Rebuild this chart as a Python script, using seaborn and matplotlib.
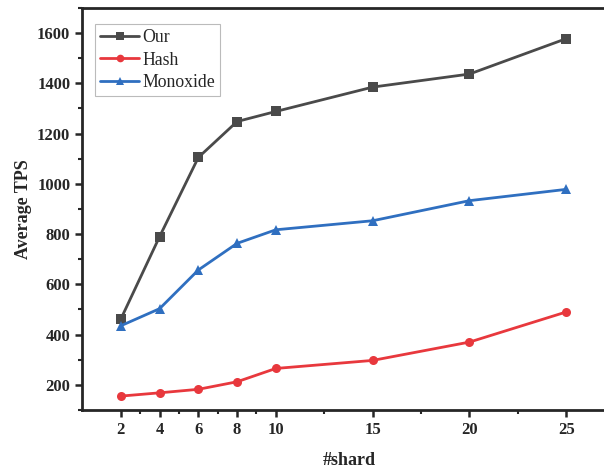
import matplotlib
matplotlib.use("Agg")
import matplotlib.pyplot as plt
import pandas as pd
import seaborn as sns
from matplotlib.ticker import AutoMinorLocator, FixedLocator

# values
shards = [2, 4, 6, 8, 10, 15, 20, 25]
our = [462, 790, 1105, 1248, 1288, 1385, 1437, 1578]
hash_tps = [155, 168, 182, 212, 265, 297, 370, 490]
monoxide = [435, 503, 657, 763, 817, 853, 933, 978]

methods = ["Our", "Hash", "Monoxide"]
colors = ["#4a4a4a", "#e8383d", "#2f6fc0"]

df = pd.concat([
    pd.DataFrame({"shard": shards, "tps": our, "method": "Our"}),
    pd.DataFrame({"shard": shards, "tps": hash_tps, "method": "Hash"}),
    pd.DataFrame({"shard": shards, "tps": monoxide, "method": "Monoxide"}),
])

sns.set_style("ticks")
plt.rcParams["font.family"] = ["Liberation Serif", "DejaVu Serif"]

fig = plt.figure(figsize=(6.04, 4.69), dpi=100)
# the original picture is cropped on the right, so the right spine falls off the edge
ax = fig.add_axes([0.136, 0.126, 0.885, 0.857])

sns.lineplot(
    data=df, x="shard", y="tps", hue="method", style="method",
    hue_order=methods, style_order=methods,
    palette=colors, markers=["s", "o", "^"], dashes=False,
    markersize=6.5, linewidth=2, markeredgewidth=0, ax=ax,
)

ax.set_xlim(0, 27.6)
ax.set_ylim(100, 1700)
ax.xaxis.set_major_locator(FixedLocator(shards))
ax.xaxis.set_minor_locator(FixedLocator([3, 5, 7, 9, 12.5, 17.5, 22.5]))
ax.set_yticks([200, 400, 600, 800, 1000, 1200, 1400, 1600])
ax.yaxis.set_minor_locator(AutoMinorLocator(2))
ax.tick_params(axis="both", which="major", labelsize=12, width=1.8, length=5)
ax.tick_params(axis="both", which="minor", width=1.5, length=3)
for lab in ax.get_xticklabels() + ax.get_yticklabels():
    lab.set_fontweight("bold")

for side in ["left", "bottom", "top", "right"]:
    ax.spines[side].set_linewidth(2)
    ax.spines[side].set_visible(True)

ax.set_xlabel("#shard", fontsize=13, fontweight="bold", labelpad=10)
ax.set_ylabel("Average TPS", fontsize=13, fontweight="bold")

leg = ax.legend(
    loc="upper left", bbox_to_anchor=(0.024, 0.96),
    frameon=True, fancybox=False, edgecolor="#aaaaaa", handlelength=2.2,
    handletextpad=0.15, borderpad=0.3, borderaxespad=0, labelspacing=0.3,
    prop={"family": "Liberation Serif", "size": 12.8},
)
leg.get_frame().set_linewidth(0.8)
for h in leg.legend_handles:
    h.set_markersize(5.5)

fig.savefig("out.png", dpi=100)
